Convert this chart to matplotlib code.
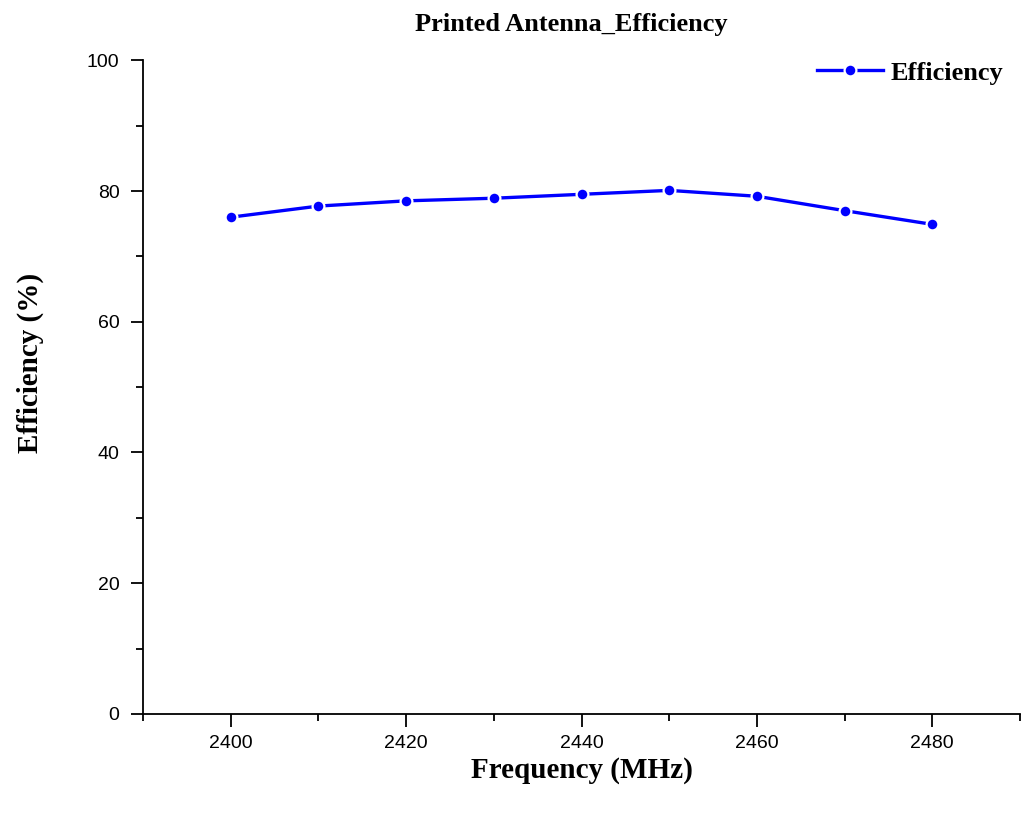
import numpy as np
import matplotlib
matplotlib.use("Agg")
import matplotlib.pyplot as plt
from matplotlib.ticker import MultipleLocator

# datos
frecuencia = [2400, 2410, 2420, 2430, 2440, 2450, 2460, 2470, 2480]
eficiencia = [76.0, 77.7, 78.5, 78.9, 79.5, 80.1, 79.2, 77.0, 74.9]
etiqueta = "Efficiency"

fig = plt.figure(figsize=(10.22, 8.15), dpi=100)
ax = fig.add_axes([0.140, 0.124, 0.858, 0.802])

# marcador con borde blanco para imitar el hueco entre linea y punto
ax.plot(frecuencia, eficiencia, color="#0000ff", lw=2.4, marker="o",
        ms=8.5, mec="white", mew=1.6, label=etiqueta)

ax.set_xlim(2390, 2490)
ax.set_ylim(0, 100)
ax.xaxis.set_major_locator(MultipleLocator(20))
ax.xaxis.set_minor_locator(MultipleLocator(10))
ax.yaxis.set_major_locator(MultipleLocator(20))
ax.yaxis.set_minor_locator(MultipleLocator(10))

ax.spines["top"].set_visible(False)
ax.spines["right"].set_visible(False)
ax.spines["left"].set_linewidth(1.3)
ax.spines["bottom"].set_linewidth(1.3)
ax.tick_params(which="major", direction="out", length=9, width=1.3,
               labelsize=14)
ax.tick_params(axis="y", which="major", pad=8)
ax.tick_params(axis="x", which="major", pad=6)
ax.tick_params(which="minor", direction="out", length=5, width=1.3)
for lbl in ax.get_xticklabels() + ax.get_yticklabels():
    lbl.set_family("Liberation Sans")

serif = "Liberation Serif"
ax.set_title("Printed Antenna_Efficiency", family=serif, fontweight="bold",
             fontsize=19, pad=21, x=0.488)
ax.set_xlabel("Frequency (MHz)", family=serif, fontweight="bold",
              fontsize=21, labelpad=4)
ax.set_ylabel("Efficiency (%)", family=serif, fontweight="bold",
              fontsize=21)
ax.yaxis.set_label_coords(-0.113, 0.537)

ax.legend(loc="upper right", frameon=False, handlelength=2.5,
          prop={"family": serif, "weight": "bold", "size": 19},
          bbox_to_anchor=(1.008, 1.035), handletextpad=0.3)

fig.savefig("out.png", dpi=100)
